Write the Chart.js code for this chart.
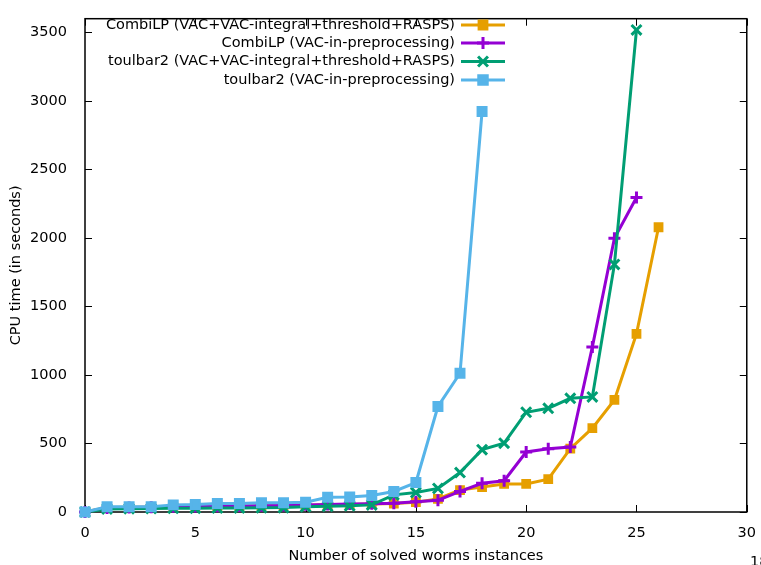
<!DOCTYPE html>
<html>
<head>
<meta charset="utf-8">
<script src="https://cdn.jsdelivr.net/npm/chart.js@4.4.0/dist/chart.umd.min.js"></script>
<style>
    html, body { margin: 0; padding: 0; background: #fff; }
    canvas { display: block; }
</style>
</head>
<body>
<canvas id="cpuChart" width="761" height="565"></canvas>
<script>
/* Series names, in legend order */
const SERIES_LABELS = [
    "CombiLP (VAC+VAC-integral+threshold+RASPS)",
    "CombiLP (VAC-in-preprocessing)",
    "toulbar2 (VAC+VAC-integral+threshold+RASPS)",
    "toulbar2 (VAC-in-preprocessing)",
];

/* CPU time (s) after n solved instances, n = 0, 1, 2, ... */
const combiLPFull = [0, 32, 35, 35, 38, 40, 40, 42, 45, 48, 50, 52, 55, 58, 62, 72, 95, 160, 182, 205, 205, 240, 462, 612, 818, 1300, 2078];
const combiLPPre = [0, 30, 33, 35, 38, 40, 42, 44, 46, 48, 52, 55, 58, 60, 64, 74, 86, 150, 210, 228, 438, 462, 474, 1205, 1998, 2295];
const toulbar2Full = [0, 22, 24, 25, 27, 28, 29, 30, 31, 32, 38, 42, 45, 52, 125, 142, 172, 288, 455, 502, 728, 757, 830, 840, 1807, 3518];
const toulbar2Pre = [0, 38, 38, 38, 52, 55, 62, 62, 68, 68, 72, 108, 110, 120, 150, 215, 770, 1012, 2922];

/* Axis ticks */
const X_TICKS = [0, 5, 10, 15, 20, 25, 30];
const Y_TICKS = [0, 500, 1000, 1500, 2000, 2500, 3000, 3500];

/* gnuplot-like palette */
const COLORS = ["#e69f00", "#9400d3", "#009e73", "#56b4e9"];
const MARKERS = [
    { pointStyle: "rect", radius: 5.5, borderWidth: 2 },
    { pointStyle: "cross", radius: 6, borderWidth: 3 },
    { pointStyle: "crossRot", radius: 7, borderWidth: 3 },
    { pointStyle: "rect", radius: 6, borderWidth: 2.5 },
];
const TICK = 7;
const FONT = "'DejaVu Sans', sans-serif";

Chart.defaults.font.family = FONT;
Chart.defaults.font.size = 14.5;
Chart.defaults.color = "#000";

const toPoints = ys => ys.map((y, i) => ({ x: i, y: y }));

/* Plot frame with inward ticks on all four sides */
const frameAndTicks = {
    id: "frameAndTicks",
    beforeDatasetsDraw(chart) {
        const { ctx, chartArea: a, scales: { x, y } } = chart;
        ctx.save();
        ctx.strokeStyle = "#000";
        ctx.lineWidth = 1;
        ctx.beginPath();
        for (const v of X_TICKS) {
            const px = Math.round(x.getPixelForValue(v)) + 0.5;
            ctx.moveTo(px, a.bottom); ctx.lineTo(px, a.bottom - TICK);
            ctx.moveTo(px, a.top); ctx.lineTo(px, a.top + TICK);
        }
        for (const v of Y_TICKS) {
            const py = Math.round(y.getPixelForValue(v)) + 0.5;
            ctx.moveTo(a.left, py); ctx.lineTo(a.left + TICK, py);
            ctx.moveTo(a.right, py); ctx.lineTo(a.right - TICK, py);
        }
        ctx.stroke();
        ctx.lineWidth = 1.5;
        ctx.strokeRect(a.left, a.top, a.right - a.left, a.bottom - a.top);
        ctx.restore();
    },
};

/* Key in the top-left: right-aligned labels, sample line to the right */
const gnuplotKey = {
    id: "gnuplotKey",
    afterDatasetsDraw(chart) {
        const ctx = chart.ctx;
        const textRight = 455, lineFrom = 461, lineTo = 505;
        const rowY = [25, 43, 61.5, 80];
        ctx.save();
        ctx.font = "14.5px " + FONT;
        ctx.textAlign = "right";
        ctx.textBaseline = "middle";
        SERIES_LABELS.forEach((label, i) => {
            const y = rowY[i];
            ctx.fillStyle = "#000";
            ctx.fillText(label, textRight, y);
            ctx.strokeStyle = COLORS[i];
            ctx.fillStyle = COLORS[i];
            ctx.lineWidth = 3;
            ctx.beginPath();
            ctx.moveTo(lineFrom, y);
            ctx.lineTo(lineTo, y);
            ctx.stroke();
            Chart.helpers.drawPoint(ctx, Object.assign({ rotation: 0 }, MARKERS[i]), (lineFrom + lineTo) / 2, y);
        });
        // stray page label cut off at the lower right corner
        ctx.fillStyle = "#000";
        ctx.textAlign = "left";
        ctx.textBaseline = "top";
        ctx.fillText("18", 750, 555);
        ctx.restore();
    },
};

const seriesData = [combiLPFull, combiLPPre, toulbar2Full, toulbar2Pre];

new Chart(document.getElementById("cpuChart"), {
    type: "line",
    data: {
        datasets: seriesData.map((ys, i) => ({
            label: SERIES_LABELS[i],
            data: toPoints(ys),
            borderColor: COLORS[i],
            backgroundColor: COLORS[i],
            pointBackgroundColor: COLORS[i],
            pointBorderColor: COLORS[i],
            borderWidth: 3,
            pointStyle: MARKERS[i].pointStyle,
            pointRadius: MARKERS[i].radius,
            pointBorderWidth: MARKERS[i].borderWidth,
            tension: 0,
            fill: false,
            clip: false,
            order: SERIES_LABELS.length - i,
        })),
    },
    options: {
        responsive: false,
        animation: false,
        devicePixelRatio: 1,
        layout: { padding: { left: 0, right: 13, top: 8, bottom: 0 } },
        plugins: {
            legend: { display: false },
            tooltip: { enabled: false },
        },
        scales: {
            x: {
                type: "linear",
                min: 0,
                max: 30,
                grid: { display: false },
                border: { display: false },
                afterBuildTicks: s => { s.ticks = X_TICKS.map(v => ({ value: v })); },
                afterFit: s => { s.height = 53; },
                ticks: { autoSkip: false, maxRotation: 0, padding: 5, callback: v => String(v) },
                title: {
                    display: true,
                    text: "Number of solved worms instances",
                    padding: { top: 0, bottom: 0 },
                },
            },
            y: {
                type: "linear",
                min: 0,
                max: 3600,
                grid: { display: false },
                border: { display: false },
                afterBuildTicks: s => { s.ticks = Y_TICKS.map(v => ({ value: v })); },
                afterFit: s => { s.width = 85; },
                ticks: { autoSkip: false, padding: 10, callback: v => String(v) },
                title: {
                    display: true,
                    text: "CPU time (in seconds)",
                    padding: { top: 8, bottom: 0 },
                },
            },
        },
    },
    plugins: [frameAndTicks, gnuplotKey],
});
</script>
</body>
</html>
